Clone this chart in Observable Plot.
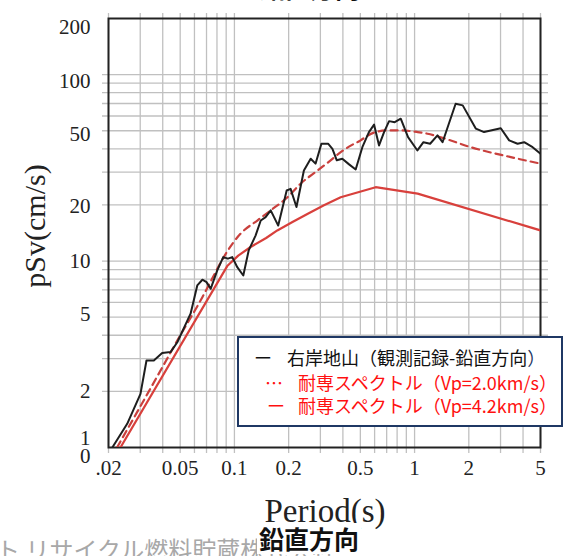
<!DOCTYPE html>
<html><head><meta charset="utf-8">
<script src="https://cdn.jsdelivr.net/npm/d3@7"></script>
<script src="https://cdn.jsdelivr.net/npm/@observablehq/plot@0.6"></script>
<style>
body{margin:0;background:#fff;}
#wrap{position:relative;width:565px;height:556px;overflow:hidden;background:#fff;}
#wrap svg{position:absolute;left:0;top:0;}
.cap{position:absolute;white-space:nowrap;}
#toptitle{left:0;width:620px;text-align:center;top:-31px;font:bold 25px "Noto Sans CJK JP";color:#111;}
#xlabel{left:0;width:650px;text-align:center;top:493px;font:33px "Liberation Serif";color:#222;}
#grey{left:-4px;top:531px;font:24px "Noto Sans CJK JP";color:#a8a8a8;}
#bottitle{left:257px;top:523px;font:bold 25px "Noto Sans CJK JP";color:#111;background:#fff;line-height:31px;padding:0 2px;}
#legend{position:absolute;left:237px;top:336px;width:322px;height:87px;border:2px solid #1f3864;background:#fff;font:18px "Noto Sans CJK JP";}
#legend .r{position:absolute;white-space:nowrap;line-height:22px;}
</style></head><body><div id="wrap"></div>
<script>
// Observed record (右岸地山 観測記録-鉛直方向)
const obsPeriod = [0.021,0.0254,0.0301,0.0325,0.0357,0.0397,0.0442,0.0482,0.0571,0.0622,0.0664,0.070,0.0738,0.0803,0.0867,0.092,0.0973,0.1037,0.112,0.120,0.131,0.140,0.149,0.159,0.175,0.195,0.205,0.221,0.243,0.265,0.282,0.304,0.331,0.350,0.370,0.397,0.433,0.471,0.513,0.558,0.596,0.635,0.677,0.722,0.776,0.838,0.920,1.037,1.12,1.22,1.34,1.43,1.69,1.85,2.19,2.43,3.01,3.35,3.73,4.06,4.52,5.0];
const obsPsv = [1.0,1.34,1.94,2.93,2.93,3.21,3.25,3.67,5.22,7.40,7.94,7.71,7.10,8.91,10.5,10.3,10.5,9.27,8.37,11.4,13.7,16.5,17.2,18.7,15.5,23.9,24.4,19.5,30.6,35.4,33.3,42.6,42.6,40.0,34.7,35.4,33.0,31.0,40.8,49.2,53.9,41.7,49.2,56.3,55.6,58.0,46.2,39.2,43.4,42.6,47.2,43.4,69.8,68.4,51.3,49.2,51.6,44.4,42.6,43.4,40.8,37.6];
// 耐専スペクトル (Vp=2.0km/s)
const vp20Period = [0.0223,0.0335,0.0501,0.0664,0.075,0.0893,0.108,0.134,0.159,0.197,0.233,0.289,0.342,0.389,0.45,0.502,0.547,0.608,0.706,0.838,1.04,1.18,1.46,2.05,3.42,5.0];
const vp20Psv = [1.0,2.0,4.0,6.4,8.0,10.9,14.0,16.5,18.7,22.0,26.0,30.6,34.7,38.4,42.0,44.4,47.0,49.2,50.2,50.2,49.2,48.2,45.5,40.8,36.1,33.3];
// 耐専スペクトル (Vp=4.2km/s)
const vp42Period = [0.0233,0.0912,0.105,0.123,0.15,0.173,0.21,0.254,0.314,0.389,0.608,1.04,5.0];
const vp42Psv = [1.0,9.4,10.7,11.9,13.3,14.6,16.2,17.9,19.9,22.0,24.9,23.0,14.6];

const xTicks = [0.02,0.05,0.1,0.2,0.5,1,2,5];
const xTickLabels = [".02","0.05","0.1","0.2","0.5","1","2","5"];
const yTicks = [2,5,10,20,50,100,200];
const yTickLabels = ["2","5","10","20","50","100","200"];
const xGrid = [0.02,0.03,0.04,0.05,0.06,0.07,0.08,0.09,0.1,0.2,0.3,0.4,0.5,0.6,0.7,0.8,0.9,1,2,3,4,5];
const yGrid = [2,3,4,5,6,7,8,9,10,20,30,40,50,60,70,80,90,100];

const obs = obsPeriod.map((t,i)=>({t, v: obsPsv[i]}));
const s20 = vp20Period.map((t,i)=>({t, v: vp20Psv[i]}));
const s42 = vp42Period.map((t,i)=>({t, v: vp42Psv[i]}));

const serif = "Liberation Serif";
const ink = "#222";
const yLabelShift = {2: 0, 5: -3, 10: 0, 20: 1, 50: 4, 100: 7, 200: 9};
const yLabelMarks = yTicks.map((v, i) =>
  Plot.text([v], {y: d=>d, frameAnchor: "left", dx: -18, dy: yLabelShift[v], textAnchor: "end", text: () => yTickLabels[i], fontSize: 21, fontFamily: serif, fill: ink}));

const chart = Plot.plot({
  width: 565, height: 492,
  marginLeft: 108, marginRight: 25, marginTop: 18, marginBottom: 45,
  style: {background: "transparent", fontFamily: serif},
  x: {type: "log", domain: [0.02, 5], axis: null},
  y: {type: "log", domain: [1, 200], axis: null},
  marks: [
    Plot.ruleX(xGrid, {x: d=>d, stroke: "#c0c0c0", strokeWidth: 1.3, insetTop: -5, insetBottom: -6}),
    Plot.ruleY(yGrid, {y: d=>d, stroke: "#c0c0c0", strokeWidth: 1.3, insetLeft: -6, insetRight: -8}),
    Plot.frame({stroke: ink, strokeWidth: 2}),
    Plot.text(xTicks, {x: d=>d, frameAnchor: "bottom", dy: 27, text: (d, i) => xTickLabels[i], fontSize: 21, fontFamily: serif, fill: ink}),
    ...yLabelMarks,
    Plot.text([1], {y: d=>d, frameAnchor: "left", dx: -18, dy: -9, textAnchor: "end", text: () => "1", fontSize: 21, fontFamily: serif, fill: ink}),
    Plot.text([1], {y: d=>d, frameAnchor: "left", dx: -18, dy: 9, textAnchor: "end", text: () => "0", fontSize: 21, fontFamily: serif, fill: ink}),
    Plot.text(["pSv(cm/s)"], {frameAnchor: "left", dx: -73, dy: -7, rotate: -90, textAnchor: "middle", fontSize: 30, fontFamily: serif, fill: ink}),
    Plot.line(s42, {x: "t", y: "v", stroke: "#d8403c", strokeWidth: 2.2, clip: true}),
    Plot.line(s20, {x: "t", y: "v", stroke: "#c9403d", strokeWidth: 2.2, strokeDasharray: "7,5", curve: "monotone-x", clip: true}),
    Plot.line(obs, {x: "t", y: "v", stroke: "#1e1e1e", strokeWidth: 2, clip: true})
  ]
});
const wrap = document.getElementById("wrap");
wrap.appendChild(chart);
wrap.insertAdjacentHTML("beforeend", `
<div class="cap" id="toptitle">鉛直方向</div>
<div class="cap" id="xlabel">Period(s)</div>
<div class="cap" id="grey">ト リサイクル燃料貯蔵株式会社</div>
<div class="cap" id="bottitle">鉛直方向</div>
<div id="legend">
  <span class="r" style="left:15px;top:8px;color:#111">ー</span>
  <span class="r" style="left:48px;top:8px;color:#111">右岸地山（観測記録-鉛直方向<span style="color:#1f3864">）</span></span>
  <span class="r" style="left:26px;top:33px;color:#ff1010">…</span>
  <span class="r" style="left:59px;top:33px;color:#ff1010">耐専スペクトル（Vp=2.0km/s）</span>
  <span class="r" style="left:28px;top:56px;color:#ff1010">ー</span>
  <span class="r" style="left:59px;top:56px;color:#ff1010">耐専スペクトル（Vp=4.2km/s）</span>
</div>`);
</script>
</body></html>
